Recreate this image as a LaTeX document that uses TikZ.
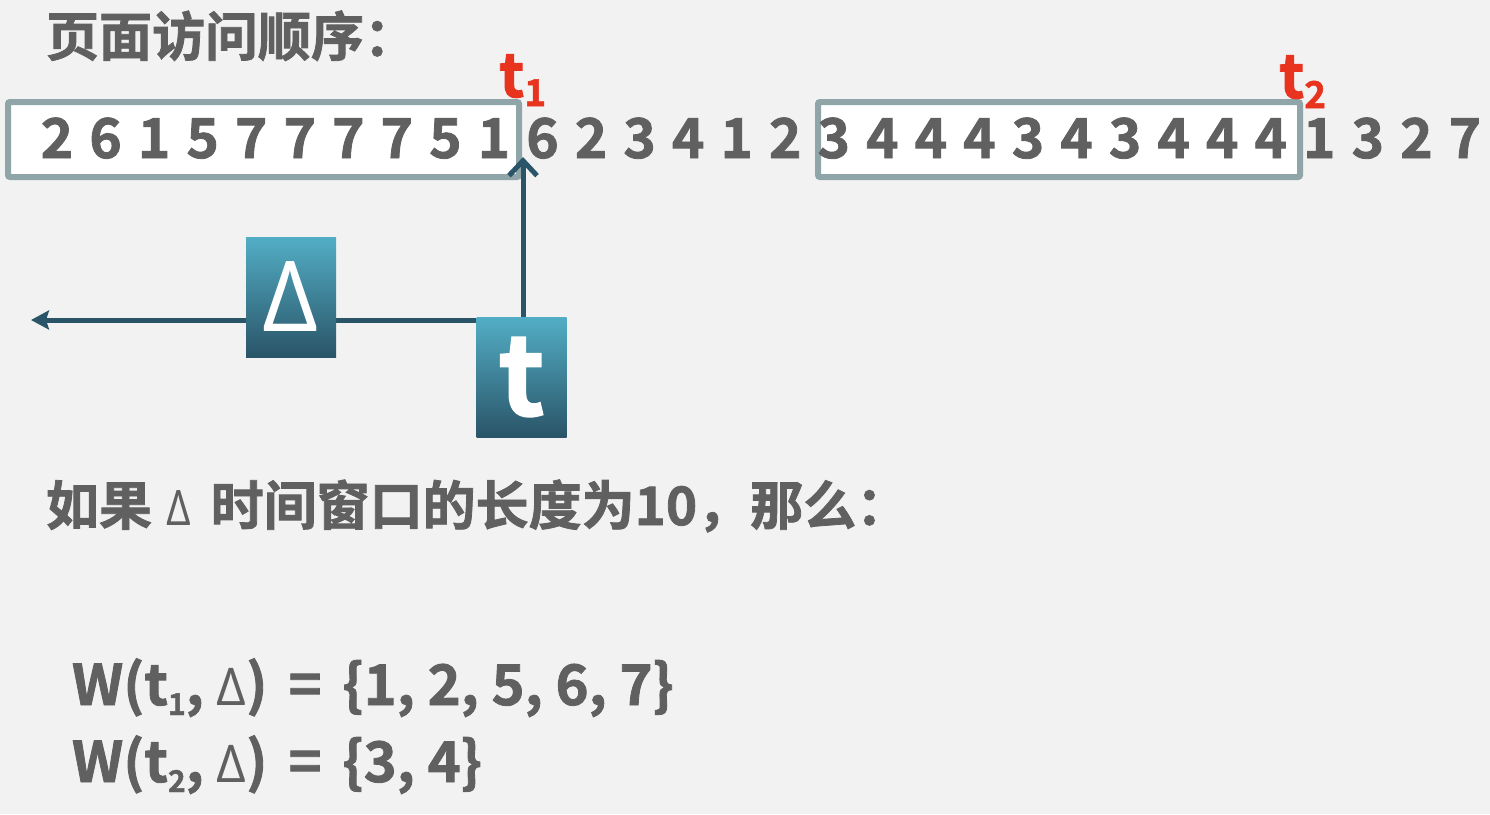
\documentclass[tikz,border=0pt]{standalone}
\usepackage{fontspec}
\usetikzlibrary{arrows.meta}
\newfontfamily\cjkb{Noto Sans CJK SC Bold}[FakeBold=1.5]
\newfontfamily\osr{Open Sans}
\definecolor{bg}{HTML}{F2F2F2}
\definecolor{txt}{HTML}{606060}
\definecolor{frame}{HTML}{8FA5A8}
\definecolor{redt}{HTML}{E8341F}
\definecolor{dteal}{HTML}{2A5468}
\definecolor{lteal}{HTML}{52AEC5}
\newcommand{\fs}[1]{\fontsize{#1}{#1}\selectfont}
\begin{document}
\begin{tikzpicture}[x=1pt,y=-1pt,
  txtnode/.style={inner sep=0pt, outer sep=0pt, text=txt, font=\cjkb},
  digit/.style={txtnode, anchor=base, font=\cjkb\fs{55}},
  winbox/.style={draw=frame, line width=6pt, fill=white, rounded corners=2pt, inner sep=0pt},
  gradbox/.style={inner sep=0pt, outer sep=0pt, minimum width=90pt, minimum height=120pt,
    top color=lteal, bottom color=dteal, text=white},
  redlab/.style={txtnode, text=redt, anchor=base west, font=\cjkb\fs{60}},
  conn/.style={line width=5pt, draw=dteal}
]
\useasboundingbox[fill=bg] (0,0) rectangle (1490,814);

% title
\node[txtnode, anchor=base west, font=\cjkb\fs{53}] (title) at (46,56) {页面访问顺序：};

% window boxes
\node[winbox, minimum width=511pt, minimum height=75pt] (win1) at (263.5,139.5) {};
\node[winbox, minimum width=482pt, minimum height=75pt] (win2) at (1059,139.5) {};

% digits
\foreach \d [count=\i from 0] in {2,6,1,5,7,7,7,7,5,1,6,2,3,4,1,2,3,4,4,4,3,4,3,4,4,4,1,3,2,7}
  \node[digit] (d\i) at ({57+48.55*\i},158) {\d};

% red labels
\node[redlab] (t1) at (499,97) {t\raisebox{-9pt}{\fs{37}1}};
\node[redlab] (t2) at (1279,98) {t\raisebox{-10pt}{\fs{37}2}};

% connector
\coordinate (lefttip) at (31,320);
\coordinate (corner) at (523,320);
\coordinate (uptip) at (523,157);
\draw[conn, line join=miter, {Stealth[length=18pt,width=19pt,inset=3pt]}-{Straight Barb[length=15pt,width=28pt,line width=5pt]}]
  (lefttip) -- (corner) -- (uptip);

% gradient boxes
\node[gradbox, font=\osr\fs{98}] (dbox) at (291,297) {Δ};
\node[gradbox, font=\cjkb\fs{110}] (tbox) at (521.5,377) {t};

% condition line
\node[txtnode, anchor=base west, font=\cjkb\fs{53}] (cond) at (46,525)
  {如果\hspace{14pt}\scalebox{0.88}[1]{\osr\fs{49}Δ}\hspace{20pt}时间窗口的长度为10，那么：};

% working sets
\node[txtnode, anchor=base west, font=\cjkb\fs{56}] (w1) at (72,705)
  {W(t\raisebox{-10pt}{\fs{30}1}, {\osr\fs{52}Δ})\hspace{21pt}=\hspace{21pt}\{1, 2, 5, 6, 7\}};
\node[txtnode, anchor=base west, font=\cjkb\fs{56}] (w2) at (72,782)
  {W(t\raisebox{-10pt}{\fs{30}2}, {\osr\fs{52}Δ})\hspace{21pt}=\hspace{21pt}\{3, 4\}};
\end{tikzpicture}
\end{document}
